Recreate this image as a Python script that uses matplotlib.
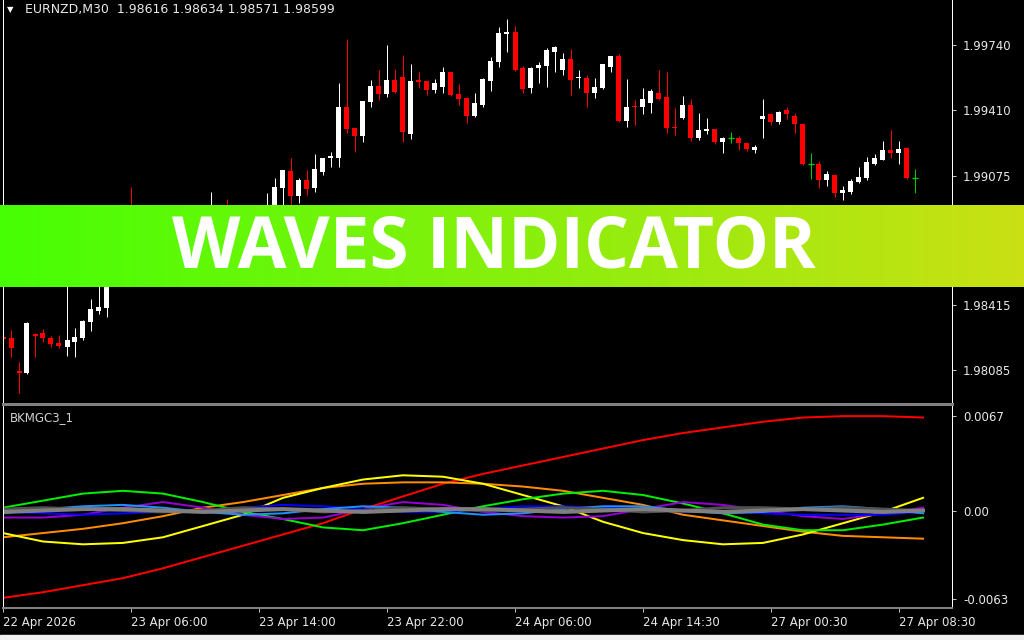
import numpy as np
import matplotlib
matplotlib.use("Agg")
import matplotlib.pyplot as plt

# --- price data (EURNZD M30), one candle per bar ---
opens = [1.98253, 1.98248, 1.98080, 1.98070, 1.98268, 1.98273, 1.98248, 1.98222, 1.98202, 1.98228,
         1.98248, 1.98329, 1.98385, 1.98401, 1.98594, 1.98635, 1.98696, 1.98655, 1.98727, 1.98696,
         1.98757, 1.98798, 1.98762, 1.98818, 1.98849, 1.98808, 1.98859, 1.98900, 1.98869, 1.98839,
         1.98879, 1.98910, 1.98879, 1.98900, 1.98884, 1.99012, 1.99098, 1.98971, 1.99052, 1.99012,
         1.99093, 1.99165, 1.99164, 1.99424, 1.99317, 1.99277, 1.99450, 1.99531, 1.99490, 1.99562,
         1.99577, 1.99287, 1.99562, 1.99557, 1.99511, 1.99526, 1.99602, 1.99490, 1.99470, 1.99378,
         1.99434, 1.99557, 1.99653, 1.99796, 1.99806, 1.99623, 1.99521, 1.99623, 1.99633, 1.99704,
         1.99613, 1.99669, 1.99572, 1.99572, 1.99495, 1.99521, 1.99628, 1.99684, 1.99353, 1.99429,
         1.99424, 1.99445, 1.99495, 1.99475, 1.99322, 1.99368, 1.99434, 1.99266, 1.99302, 1.99312,
         1.99246, 1.99266, 1.99266, 1.99241, 1.99205, 1.99363, 1.99389, 1.99348, 1.99409, 1.99378,
         1.99338, 1.99134, 1.99134, 1.99052, 1.99078, 1.98986, 1.98991, 1.99042, 1.99063, 1.99134,
         1.99154, 1.99205, 1.99190, 1.99215, 1.99063]
highs = [1.98304, 1.98289, 1.98126, 1.98329, 1.98273, 1.98294, 1.98258, 1.98263, 1.98543, 1.98299,
         1.98340, 1.98446, 1.98543, 1.98620, 1.98671, 1.98716, 1.99017, 1.98747, 1.98757, 1.98777,
         1.98818, 1.98823, 1.98844, 1.98879, 1.98869, 1.98879, 1.98991, 1.98920, 1.98956, 1.98900,
         1.98925, 1.98920, 1.98920, 1.98986, 1.99063, 1.99103, 1.99165, 1.99063, 1.99103, 1.99185,
         1.99164, 1.99195, 1.99547, 1.99770, 1.99317, 1.99455, 1.99562, 1.99613, 1.99740, 1.99618,
         1.99689, 1.99643, 1.99602, 1.99557, 1.99567, 1.99628, 1.99602, 1.99541, 1.99475, 1.99495,
         1.99572, 1.99679, 1.99832, 1.99872, 1.99837, 1.99633, 1.99628, 1.99653, 1.99725, 1.99735,
         1.99699, 1.99719, 1.99613, 1.99587, 1.99572, 1.99643, 1.99684, 1.99694, 1.99567, 1.99460,
         1.99521, 1.99516, 1.99613, 1.99602, 1.99419, 1.99480, 1.99465, 1.99394, 1.99368, 1.99312,
         1.99271, 1.99297, 1.99277, 1.99241, 1.99231, 1.99465, 1.99394, 1.99404, 1.99424, 1.99394,
         1.99343, 1.99190, 1.99149, 1.99098, 1.99083, 1.99022, 1.99058, 1.99119, 1.99170, 1.99185,
         1.99251, 1.99307, 1.99251, 1.99220, 1.99108]
lows = [1.98228, 1.98151, 1.97968, 1.98065, 1.98151, 1.98228, 1.98202, 1.98197, 1.98156, 1.98151,
        1.98238, 1.98284, 1.98370, 1.98355, 1.98574, 1.98615, 1.98635, 1.98635, 1.98671, 1.98681,
        1.98737, 1.98742, 1.98747, 1.98803, 1.98788, 1.98793, 1.98839, 1.98849, 1.98818, 1.98823,
        1.98859, 1.98859, 1.98864, 1.98884, 1.98859, 1.98900, 1.98910, 1.98935, 1.98976, 1.98991,
        1.99078, 1.99119, 1.99119, 1.99292, 1.99195, 1.99246, 1.99424, 1.99460, 1.99475, 1.99495,
        1.99246, 1.99261, 1.99521, 1.99485, 1.99495, 1.99495, 1.99480, 1.99434, 1.99343, 1.99373,
        1.99424, 1.99506, 1.99628, 1.99704, 1.99608, 1.99495, 1.99495, 1.99547, 1.99526, 1.99602,
        1.99587, 1.99485, 1.99521, 1.99424, 1.99470, 1.99516, 1.99602, 1.99348, 1.99322, 1.99333,
        1.99389, 1.99394, 1.99460, 1.99292, 1.99282, 1.99363, 1.99251, 1.99256, 1.99287, 1.99236,
        1.99190, 1.99241, 1.99205, 1.99200, 1.99190, 1.99266, 1.99333, 1.99338, 1.99363, 1.99292,
        1.99129, 1.99058, 1.99012, 1.99022, 1.98966, 1.98951, 1.98981, 1.99037, 1.99052, 1.99129,
        1.99154, 1.99165, 1.99134, 1.99058, 1.98986]
closes = [1.98243, 1.98197, 1.98070, 1.98324, 1.98258, 1.98248, 1.98217, 1.98207, 1.98238, 1.98253,
          1.98334, 1.98396, 1.98406, 1.98594, 1.98635, 1.98696, 1.98655, 1.98727, 1.98696, 1.98757,
          1.98798, 1.98762, 1.98818, 1.98849, 1.98808, 1.98859, 1.98900, 1.98869, 1.98839, 1.98879,
          1.98910, 1.98879, 1.98920, 1.98925, 1.99017, 1.99103, 1.98971, 1.99052, 1.99007, 1.99108,
          1.99164, 1.99175, 1.99424, 1.99312, 1.99277, 1.99455, 1.99531, 1.99490, 1.99562, 1.99501,
          1.99297, 1.99557, 1.99551, 1.99511, 1.99547, 1.99602, 1.99485, 1.99465, 1.99378, 1.99445,
          1.99567, 1.99658, 1.99801, 1.99806, 1.99613, 1.99516, 1.99623, 1.99638, 1.99714, 1.99730,
          1.99669, 1.99562, 1.99577, 1.99495, 1.99526, 1.99643, 1.99684, 1.99353, 1.99424, 1.99424,
          1.99465, 1.99506, 1.99465, 1.99317, 1.99317, 1.99434, 1.99266, 1.99307, 1.99312, 1.99246,
          1.99266, 1.99266, 1.99241, 1.99210, 1.99220, 1.99378, 1.99348, 1.99399, 1.99389, 1.99338,
          1.99134, 1.99134, 1.99052, 1.99083, 1.98986, 1.99002, 1.99047, 1.99068, 1.99144, 1.99164,
          1.99205, 1.99190, 1.99210, 1.99063, 1.99063]

price_ticks = [1.99740, 1.99410, 1.99075, 1.98745, 1.98415, 1.98085]
time_tick_bars = [0, 16, 32, 48, 64, 80, 96, 112]
time_tick_labels = ['22 Apr 2026', '23 Apr 06:00', '23 Apr 14:00', '23 Apr 22:00',
                    '24 Apr 06:00', '24 Apr 14:30', '27 Apr 00:30', '27 Apr 08:30']

# --- BKMGC3_1 indicator lines, sampled every 5 bars ---
wave_bars = list(range(0, 116, 5))
wave_red = [-0.0062, -0.0058, -0.0053, -0.0048, -0.0041, -0.0033, -0.0025, -0.0017, -0.0009, 0.0001,
            0.0010, 0.0019, 0.0026, 0.0032, 0.0038, 0.0044, 0.0050, 0.0055, 0.0059, 0.0063,
            0.0066, 0.0067, 0.0067, 0.0066]
wave_orange = [-0.0019, -0.0016, -0.0013, -0.0009, -0.0004, 0.0002, 0.0006, 0.0011, 0.0016, 0.0019,
               0.0020, 0.0020, 0.0019, 0.0017, 0.0014, 0.0009, 0.0004, -0.0003, -0.0007, -0.0011,
               -0.0015, -0.0018, -0.0019, -0.0020]
wave_yellow = [-0.0016, -0.0022, -0.0024, -0.0023, -0.0019, -0.0011, -0.0003, 0.0009, 0.0016, 0.0022,
               0.0025, 0.0024, 0.0019, 0.0011, 0.0003, -0.0008, -0.0016, -0.0021, -0.0024, -0.0023,
               -0.0017, -0.0009, -0.0001, 0.0009]
wave_green = [0.0002, 0.0007, 0.0012, 0.0014, 0.0012, 0.0006, -0.0001, -0.0006, -0.0012, -0.0014,
              -0.0009, -0.0003, 0.0003, 0.0008, 0.0012, 0.0014, 0.0011, 0.0005, -0.0002, -0.0010,
              -0.0014, -0.0014, -0.0010, -0.0005]
wave_purple = [-0.0005, -0.0005, -0.0003, 0.0002, 0.0006, 0.0002, -0.0003, -0.0006, -0.0005, 0.0001,
               0.0006, 0.0004, -0.0001, -0.0004, -0.0005, -0.0004, 0.0001, 0.0006, 0.0004, 0.0000,
               -0.0004, -0.0006, -0.0002, 0.0002]
wave_blue = [-0.0001, -0.0002, -0.0003, -0.0002, -0.0001, 0.0000, 0.0002, 0.0004, 0.0003, 0.0001,
             -0.0001, -0.0001, 0.0001, 0.0003, 0.0003, 0.0002, 0.0001, -0.0001, -0.0001, -0.0002,
             -0.0003, -0.0003, -0.0003, -0.0001]
wave_sky = [-0.0002, 0.0001, 0.0003, 0.0004, 0.0002, -0.0001, -0.0003, -0.0002, 0.0001, 0.0003,
            0.0002, -0.0001, -0.0003, -0.0002, 0.0001, 0.0003, 0.0003, 0.0000, -0.0002, -0.0001,
            0.0002, 0.0003, 0.0001, -0.0002]
wave_dark = [0.0001, 0.0002, 0.0001, 0.0000, -0.0001, 0.0000, 0.0002, 0.0001, -0.0001, 0.0000,
             0.0002, 0.0001, 0.0000, 0.0001, 0.0002, 0.0001, -0.0001, 0.0000, 0.0002, 0.0002,
             0.0001, 0.0002, 0.0001, 0.0000]
wave_gray = [-0.0001, 0.0000, 0.0001, 0.0001, 0.0000, -0.0001, 0.0000, 0.0001, 0.0000, -0.0001,
             0.0000, 0.0001, 0.0001, 0.0000, -0.0001, 0.0000, 0.0001, 0.0000, -0.0001, 0.0000,
             0.0001, 0.0000, -0.0001, 0.0000]
wave_ticks = [0.0067, 0.0, -0.0063]
wave_tick_labels = ['0.0067', '0.00', '-0.0063']

W, H = 1024, 640
PX = 72 / 100  # one pixel in points


def rect(x0, y0, x1, y1):
    return [x0 / W, 1 - y1 / H, (x1 - x0) / W, (y1 - y0) / H]


fig = plt.figure(figsize=(W / 100, H / 100), dpi=100, facecolor='black')
fig.patches.append(plt.Rectangle((0, 0), 1, 5 / H, transform=fig.transFigure,
                                 color='#f0f0f0', zorder=0))

xlim = (-0.0625, 118.625)
txt = '#e8e8e8'

# main price panel
ax = fig.add_axes(rect(2.5, 0, 952, 404))
ax.set_facecolor('black')
x = np.arange(len(opens))
o = np.array(opens); c = np.array(closes); hi = np.array(highs); lo = np.array(lows)
col = np.where(c > o, '#ffffff', np.where(c < o, '#ff0000', '#00cc00'))
ax.vlines(x, lo, hi, colors=col, linewidth=PX)
body = np.maximum(np.abs(c - o), 0.00005)
up_or_down = c != o
ax.bar(x[up_or_down], body[up_or_down], bottom=np.minimum(o, c)[up_or_down],
       width=0.625, color=col[up_or_down], linewidth=0)
ax.hlines(c[~up_or_down], x[~up_or_down] - 0.35, x[~up_or_down] + 0.35,
          colors='#00cc00', linewidth=1.4 * PX)
ax.set_xlim(*xlim)
ax.set_ylim(1.97912, 1.99969)
ax.yaxis.tick_right()
ax.set_yticks(price_ticks)
ax.set_yticklabels(['%.5f' % p for p in price_ticks])
ax.tick_params(axis='y', colors='#c0c0c0', labelcolor=txt, labelsize=8.5, length=3, width=PX, pad=5)
ax.set_xticks([])
for s in ['left', 'right']:
    ax.spines[s].set_color('white'); ax.spines[s].set_linewidth(PX)
ax.spines['top'].set_visible(False)
ax.spines['bottom'].set_color('#808080'); ax.spines['bottom'].set_linewidth(3 * PX)

fig.text(7 / W, 1 - 10 / H, '\u25bc', color='white', fontsize=6, va='center')
fig.text(25 / W, 1 - 10 / H, 'EURNZD,M30  1.98616 1.98634 1.98571 1.98599',
         color=txt, fontsize=9, va='center')

# indicator panel
ax2 = fig.add_axes(rect(2.5, 405, 952, 608))
ax2.set_facecolor('black')
lw = 2 * PX
ax2.plot(wave_bars, wave_red, color='#ff0000', lw=lw)
ax2.plot(wave_bars, wave_orange, color='#ff8c00', lw=lw)
ax2.plot(wave_bars, wave_yellow, color='#ffff00', lw=lw)
ax2.plot(wave_bars, wave_green, color='#00ee00', lw=lw)
ax2.plot(wave_bars, wave_purple, color='#9400d3', lw=lw)
ax2.plot(wave_bars, wave_blue, color='#0000ff', lw=lw)
ax2.plot(wave_bars, wave_sky, color='#1e90ff', lw=lw)
ax2.plot(wave_bars, wave_dark, color='#505050', lw=3 * PX)
ax2.plot(wave_bars, wave_gray, color='#808080', lw=4 * PX)
ax2.set_xlim(*xlim)
ax2.set_ylim(-0.00692, 0.00749)
ax2.yaxis.tick_right()
ax2.set_yticks(wave_ticks)
ax2.set_yticklabels(wave_tick_labels)
ax2.set_xticks(time_tick_bars)
ax2.set_xticklabels(time_tick_labels, ha='left')
ax2.tick_params(axis='y', colors='#c0c0c0', labelcolor=txt, labelsize=8.5, length=3, width=PX, pad=5)
ax2.tick_params(axis='x', colors='#c0c0c0', labelcolor=txt, labelsize=8.5, length=3, width=PX, pad=3)
for s in ['left', 'right']:
    ax2.spines[s].set_color('white'); ax2.spines[s].set_linewidth(PX)
ax2.spines['top'].set_color('#808080'); ax2.spines['top'].set_linewidth(2 * PX)
ax2.spines['bottom'].set_color('#808080'); ax2.spines['bottom'].set_linewidth(2 * PX)
ax2.text(7 / 949.5, 1 - 13 / 203, 'BKMGC3_1', transform=ax2.transAxes,
         color='#d0d0d0', fontsize=8.5, va='center')

# title banner
ab = fig.add_axes(rect(0, 205, 1024, 287))
grad = np.linspace(0, 1, 256)
left_c = np.array([0x46, 0xff, 0x05]) / 255
right_c = np.array([0xca, 0xe0, 0x14]) / 255
img = (left_c[None, :] * (1 - grad[:, None]) + right_c[None, :] * grad[:, None])[None, :, :]
ab.imshow(img, aspect='auto', extent=(0, 1, 0, 1))
ab.set_xlim(0, 1); ab.set_ylim(0, 1)
ab.axis('off')
ab.text(494 / W, 20 / 82, 'WAVES INDICATOR', color='white', fontsize=51,
        family='Open Sans', weight='bold', ha='center', va='baseline')

fig.savefig('out.png', dpi=100, facecolor='black')
